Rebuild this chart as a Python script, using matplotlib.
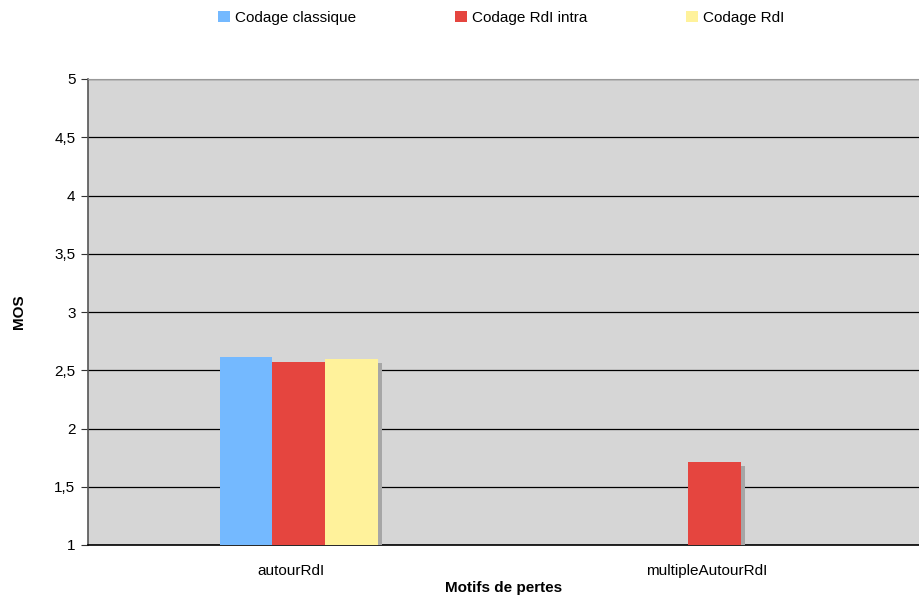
import matplotlib.pyplot as plt
import matplotlib.patheffects as pe
from matplotlib.patches import Patch
import numpy as np

plt.rcParams["font.family"] = ["Liberation Sans", "DejaVu Sans"]

categories = ["autourRdI", "multipleAutourRdI"]
series_names = ["Codage classique", "Codage RdI intra", "Codage RdI"]
colors = ["#74b9ff", "#e5453f", "#fff29b"]
# NaN = no bar for that pattern
values = [
    [2.61, np.nan],
    [2.57, 1.71],
    [2.60, np.nan],
]
yticks = [1, 1.5, 2, 2.5, 3, 3.5, 4, 4.5, 5]
ytick_labels = ["1", "1,5", "2", "2,5", "3", "3,5", "4", "4,5", "5"]

fig = plt.figure(figsize=(9.2, 5.96), dpi=100)
ax = fig.add_axes([88 / 920, 51 / 596, 832 / 920, 466 / 596])
ax.set_facecolor("#d6d6d6")

x = np.arange(len(categories))
width = 0.127
shadow = [pe.SimplePatchShadow(offset=(3, -3), shadow_rgbFace="#a6a6a6", alpha=1.0), pe.Normal()]
for i, (name, col, vals) in enumerate(zip(series_names, colors, values)):
    offs = (i - 1) * width + 0.007
    vals = np.array(vals, dtype=float)
    bars = ax.bar(x + offs, vals - 1, width, bottom=1, color=col, zorder=3)
    for b in bars:
        b.set_path_effects(shadow)

ax.set_xlim(-0.5, 1.5)
ax.set_ylim(1, 5)
ax.set_yticks(yticks)
ax.set_yticklabels(ytick_labels)
ax.set_xticks(x - 0.012)
ax.set_xticklabels(categories)
ax.tick_params(axis="x", length=0, pad=14, labelsize=11)
ax.tick_params(axis="y", length=5, direction="out", color="#333333", labelsize=11, pad=4)
ax.grid(axis="y", color="#000000", linewidth=0.9, zorder=1)
ax.set_axisbelow(True)

ax.spines["right"].set_visible(False)
ax.spines["top"].set_color("#999999")
ax.spines["left"].set_color("#555555")
ax.spines["bottom"].set_color("#000000")
ax.spines["left"].set_linewidth(1.2)
ax.spines["bottom"].set_linewidth(1.2)

ax.set_xlabel("Motifs de pertes", fontweight="bold", fontsize=11, labelpad=2)
ax.set_ylabel("MOS", fontweight="bold", fontsize=11)
ax.yaxis.set_label_coords(-0.075, 0.5)

handles = [Patch(facecolor=c, edgecolor="none", label=n) for c, n in zip(colors, series_names)]
fig.legend(handles=handles, loc="upper center", bbox_to_anchor=(0.545, 1.005), ncol=3,
           frameon=False, fontsize=11, handlelength=0.75, handleheight=0.75,
           handletextpad=0.35, columnspacing=6.48)

fig.savefig("out.png", dpi=100)
